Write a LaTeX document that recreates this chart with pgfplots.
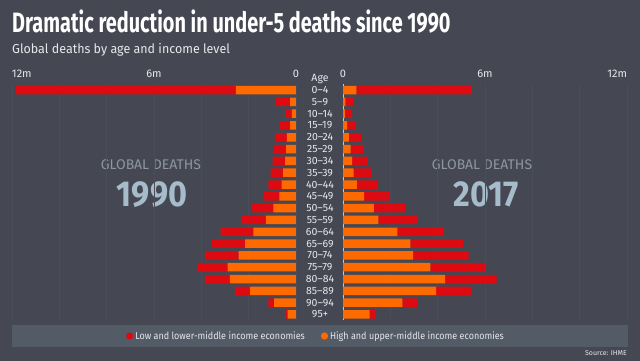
\documentclass[border=0pt]{standalone}
\usepackage{fontspec}
\setmainfont{Fira Sans}
\newfontfamily\titlefont{Fira Sans}[FakeStretch=0.71]
\newfontfamily\narrowfont{Fira Sans}[FakeStretch=0.9]
\newfontfamily\subfont{Fira Sans}[FakeStretch=0.96]
\newfontfamily\yearfont{Fira Sans}[FakeStretch=0.9]
\usepackage{pgfplots}
\pgfplotsset{compat=1.18}
\usepackage{pgfplotstable}

\definecolor{bg}{HTML}{454852}
\definecolor{lowred}{HTML}{DD0A12}
\definecolor{highor}{HTML}{FF6A00}
\definecolor{gridc}{HTML}{4A4D57}
\definecolor{axc}{HTML}{C5C9CF}
\definecolor{boxc}{HTML}{535B67}
\definecolor{txt}{HTML}{E6E8EB}
\definecolor{gdc}{HTML}{8D96A0}
\definecolor{yearc}{HTML}{A6BCCB}

% 1990: hi = high and upper-middle, lo = low and lower-middle (millions)
\pgfplotstableread{
idx hi lo
0 2.54 9.29
1 0.25 0.60
2 0.17 0.29
3 0.25 0.43
4 0.39 0.50
5 0.42 0.51
6 0.46 0.53
7 0.54 0.53
8 0.61 0.56
9 0.70 0.68
10 0.96 0.89
11 1.27 1.05
12 1.80 1.38
13 2.15 1.41
14 2.42 1.43
15 2.89 1.28
16 2.79 1.06
17 1.94 0.64
18 0.92 0.25
19 0.35 0.11
}\dataA

% 2017
\pgfplotstableread{
idx hi lo
0 0.56 4.89
1 0.10 0.35
2 0.08 0.31
3 0.17 0.37
4 0.25 0.50
5 0.32 0.55
6 0.39 0.65
7 0.45 0.75
8 0.59 0.89
9 0.89 1.07
10 1.30 1.35
11 1.49 1.65
12 2.30 1.97
13 2.85 2.21
14 2.96 2.35
15 3.69 2.32
16 4.32 2.17
17 3.93 1.48
18 2.51 0.63
19 1.13 0.24
}\dataB

\pgfplotsset{pyr/.style={
  scale only axis, width=284pt, height=236.3pt,
  xbar stacked, bar width=8.5pt,
  xmin=0, xmax=12, ymin=-0.5, ymax=19.5, y dir=reverse,
  axis line style={draw=none},
  major tick length=0pt, minor tick length=0pt,
  xtick={0,6,12}, minor xtick={2,4,8,10},
  xmajorgrids, xminorgrids,
  major grid style={gridc, line width=0.6pt},
  minor grid style={gridc, line width=0.6pt},
  xticklabel pos=upper,
  xticklabel style={font=\fontsize{11}{13}\selectfont, text=txt, anchor=base, yshift=7pt},
  /pgf/number format/assume math mode=true,
}}

\begin{document}
\begin{tikzpicture}
\fill[bg] (0,0) rectangle (640pt,361pt);
\useasboundingbox (0,0) rectangle (640pt,361pt);

% legend band
\fill[boxc] (12pt,14pt) rectangle (628pt,36pt);

\node[anchor=base west, text=white, font=\titlefont\bfseries\fontsize{28}{31}\selectfont, inner sep=0pt] at (12pt,328pt) {Dramatic reduction in under-5 deaths since 1990};
\node[anchor=base west, text=txt, font=\subfont\fontsize{13}{15}\selectfont, inner sep=0pt] at (12pt,307pt) {Global deaths by age and income level};

\node[anchor=base, text=gdc, font=\fontsize{14}{16}\selectfont, inner sep=0pt] at (151pt,191pt) {GLOBAL DEATHS};
\node[anchor=base, text=yearc, font=\yearfont\bfseries\fontsize{36}{40}\selectfont, inner sep=0pt] at (152pt,154pt) {1990};
\node[anchor=base, text=gdc, font=\fontsize{14}{16}\selectfont, inner sep=0pt] at (482pt,191pt) {GLOBAL DEATHS};
\node[anchor=base, text=yearc, font=\yearfont\bfseries\fontsize{36}{40}\selectfont, inner sep=0pt] at (486pt,154pt) {2017};

\node[anchor=base, text=txt, font=\fontsize{10.5}{12}\selectfont, inner sep=0pt] at (320pt,279pt) {Age};

\begin{axis}[pyr, at={(296pt,276.9pt)}, anchor=north east, x dir=reverse,
  xticklabels={0,6m,\rlap{12m}}, ytick=\empty]
  \addplot[fill=highor, draw=none] table[x=hi, y=idx] {\dataA};
  \addplot[fill=lowred, draw=none] table[x=lo, y=idx] {\dataA};
  \draw[axc, line width=0.8pt] (axis cs:0,-0.5) -- (axis cs:0,19.5);
\end{axis}

\begin{axis}[pyr, at={(343pt,276.9pt)}, anchor=north west,
  xticklabels={0,6m,\llap{12m}},
  ytick={0,...,19},
  yticklabels={0--4,5--9,10--14,15--19,20--24,25--29,30--34,35--39,40--44,45--49,50--54,55--59,60--64,65--69,70--74,75--79,80--84,85--89,90--94,95+},
  yticklabel style={anchor=center, xshift=-23pt, font=\fontsize{10.5}{12}\selectfont, text=txt},
  legend style={at={(-0.095,-0.066)}, anchor=center, draw=none, fill=none,
    legend columns=2, font=\narrowfont\fontsize{10}{12}\selectfont, text=txt,
    /tikz/every even column/.append style={column sep=14pt}},
  legend cell align=left, reverse legend]
  \addplot[fill=highor, draw=none, legend image code/.code={\fill[highor] (0pt,0pt) circle (3.6pt);}] table[x=hi, y=idx] {\dataB};
  \addlegendentry{High and upper-middle income economies}
  \addplot[fill=lowred, draw=none, legend image code/.code={\fill[lowred] (0pt,0pt) circle (3.6pt);}] table[x=lo, y=idx] {\dataB};
  \addlegendentry{Low and lower-middle income economies}
  \draw[axc, line width=0.8pt] (axis cs:0,-0.5) -- (axis cs:0,19.5);
\end{axis}

\node[anchor=base east, text=txt, font=\fontsize{7}{8}\selectfont, inner sep=0pt] at (627pt,5pt) {Source: IHME};
\end{tikzpicture}
\end{document}
